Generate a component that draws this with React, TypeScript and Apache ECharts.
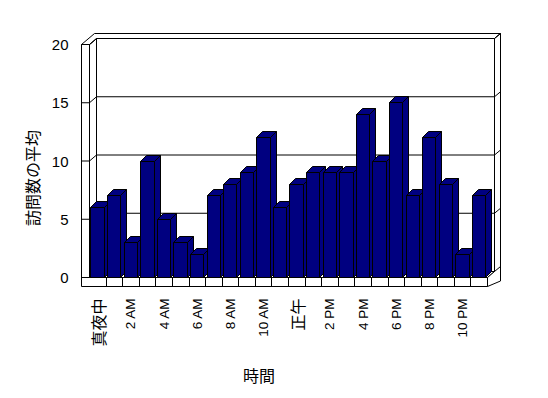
import React, { useEffect, useRef } from "react";
import * as echarts from "echarts";

const categories = [
  "真夜中", "1 AM", "2 AM", "3 AM", "4 AM", "5 AM", "6 AM", "7 AM", "8 AM", "9 AM", "10 AM", "11 AM",
  "正午", "1 PM", "2 PM", "3 PM", "4 PM", "5 PM", "6 PM", "7 PM", "8 PM", "9 PM", "10 PM", "11 PM",
];
const visits = [6, 7, 3, 10, 5, 3, 2, 7, 8, 9, 12, 6, 8, 9, 9, 9, 14, 10, 15, 7, 12, 8, 2, 7];
const yTicks = [0, 5, 10, 15, 20];
const yAxisTitle = "訪問数の平均";
const xAxisTitle = "時間";

// 3D frame styling (pixels)
const DEPTH = { x: 7, y: -6 };
const WALL = { x: 6, y: -5 };
const LEFT_WALL = 8;
const FLOOR = 9;
const BAR_DEPTH = { x: 6, y: -6 };
const NAVY = "#000080";

const snap = (v: number) => Math.round(v - 0.5) + 0.5;

export default function App() {
  const ref = useRef<HTMLDivElement>(null);
  useEffect(() => {
    if (!ref.current) return;
    const chart = echarts.init(ref.current, null, { renderer: "svg" });
    const lineStyle = { stroke: "#000", lineWidth: 1, fill: "#fff" };
    const option: any = {
      animation: false,
      backgroundColor: "#fff",
      grid: { left: 89.5, right: 60.5, top: 44.5, bottom: 120.5, containLabel: false },
      xAxis: {
        type: "category",
        data: categories,
        axisLine: { show: false },
        axisTick: { show: false },
        splitLine: { show: false },
        axisLabel: {
          interval: 1,
          rotate: 90,
          margin: 21,
          color: "#000",
          formatter: (v: string) => (/[^\x00-\x7F]/.test(v) ? `{c|${v}}` : `{a|${v}}`),
          rich: {
            a: { fontSize: 13.5, fontFamily: "Liberation Sans", color: "#000" },
            c: { fontSize: 16, fontFamily: "Noto Sans CJK JP", color: "#000" },
          },
        },
      },
      yAxis: {
        type: "value",
        min: 0,
        max: 20,
        interval: 5,
        axisLine: { show: false },
        axisTick: { show: false },
        splitLine: { show: false },
        axisLabel: { margin: 21, fontSize: 15, color: "#000", fontFamily: "Liberation Sans" },
      },
      graphic: [
        {
          type: "text",
          x: 32,
          y: 178,
          rotation: Math.PI / 2,
          style: {
            text: yAxisTitle,
            fontSize: 16,
            fontFamily: "Noto Sans CJK JP",
            fill: "#000",
            align: "center",
            verticalAlign: "middle",
          },
        },
        {
          type: "text",
          x: 259,
          y: 375,
          style: {
            text: xAxisTitle,
            fontSize: 16,
            fontFamily: "Noto Sans CJK JP",
            fill: "#000",
            align: "center",
            verticalAlign: "middle",
          },
        },
      ],
      series: [
        {
          type: "custom",
          z: 1,
          silent: true,
          data: [[0, 0]],
          renderItem: (params: any, api: any) => {
            const cs = params.coordSys;
            const gx = cs.x, gy = cs.y, gw = cs.width, gh = cs.height;
            const bx = gx + DEPTH.x, by = gy + DEPTH.y;
            const rx = gx + gw;
            const children: any[] = [];
            children.push({ type: "rect", shape: { x: bx, y: by, width: gw, height: gh }, style: lineStyle });
            children.push({
              type: "polygon",
              shape: { points: [[gx, gy + gh], [rx, gy + gh], [rx + DEPTH.x, gy + gh + DEPTH.y], [bx, gy + gh + DEPTH.y]] },
              style: lineStyle,
            });
            children.push({
              type: "polygon",
              shape: { points: [[gx, gy], [bx, by], [bx, by + gh], [gx, gy + gh]] },
              style: lineStyle,
            });
            children.push({
              type: "polygon",
              shape: {
                points: [
                  [gx - LEFT_WALL, gy], [gx, gy], [bx, by], [rx + DEPTH.x, by],
                  [rx + DEPTH.x + WALL.x, by + WALL.y], [gx - LEFT_WALL + DEPTH.x + WALL.x, by + WALL.y],
                ],
              },
              style: lineStyle,
            });
            children.push({
              type: "polygon",
              shape: {
                points: [
                  [rx + DEPTH.x, by], [rx + DEPTH.x + WALL.x, by + WALL.y],
                  [rx + DEPTH.x + WALL.x, gy + gh + FLOOR - 5.5], [rx, gy + gh + FLOOR],
                  [rx, gy + gh], [rx + DEPTH.x, gy + gh + DEPTH.y],
                ],
              },
              style: lineStyle,
            });
            children.push({
              type: "polygon",
              shape: {
                points: [
                  [gx - LEFT_WALL, gy], [gx, gy], [gx, gy + gh], [rx, gy + gh],
                  [rx, gy + gh + FLOOR], [gx - LEFT_WALL, gy + gh + FLOOR],
                ],
              },
              style: lineStyle,
            });
            const bw = gw / categories.length;
            for (let k = 1; k < categories.length; k++) {
              const x = snap(gx + k * bw);
              children.push({
                type: "line",
                shape: { x1: x, y1: gy + gh, x2: x, y2: gy + gh + FLOOR },
                style: { stroke: "#000", lineWidth: 1 },
              });
            }
            yTicks.forEach((v) => {
              const y = api.coord([0, v])[1];
              children.push({
                type: "polyline",
                shape: {
                  points: [
                    [gx - LEFT_WALL, y], [gx, y], [bx, y + DEPTH.y], [rx + DEPTH.x, y + DEPTH.y],
                    [rx + DEPTH.x + WALL.x, y + DEPTH.y + WALL.y],
                  ],
                },
                style: { stroke: "#000", lineWidth: 1, fill: null },
              });
            });
            return { type: "group", children };
          },
        },
        {
          type: "custom",
          z: 2,
          data: visits.map((v, i) => [i, v]),
          renderItem: (params: any, api: any) => {
            const i = api.value(0);
            const v = api.value(1);
            const [cx, yTopRaw] = api.coord([i, v]);
            const yBot = api.coord([i, 0])[1];
            const bw = api.size([1, 0])[0];
            const x0 = snap(cx - bw / 2 + bw * 0.09);
            const x1 = snap(cx - bw / 2 + bw * 0.89);
            const yTop = snap(yTopRaw);
            const dx = BAR_DEPTH.x, dy = BAR_DEPTH.y;
            const st = { fill: NAVY, stroke: "#000", lineWidth: 1 };
            return {
              type: "group",
              children: [
                { type: "rect", shape: { x: x0, y: yTop, width: x1 - x0, height: yBot - yTop }, style: st },
                { type: "polygon", shape: { points: [[x0, yTop], [x1, yTop], [x1 + dx, yTop + dy], [x0 + dx, yTop + dy]] }, style: st },
                { type: "polygon", shape: { points: [[x1, yTop], [x1 + dx, yTop + dy], [x1 + dx, yBot + dy], [x1, yBot]] }, style: st },
              ],
            };
          },
        },
      ],
    };
    chart.setOption(option);
    return () => chart.dispose();
  }, []);
  return (
    <div
      ref={ref}
      style={{ position: "absolute", left: 0, top: 0, width: 548, height: 398 }}
    />
  );
}
